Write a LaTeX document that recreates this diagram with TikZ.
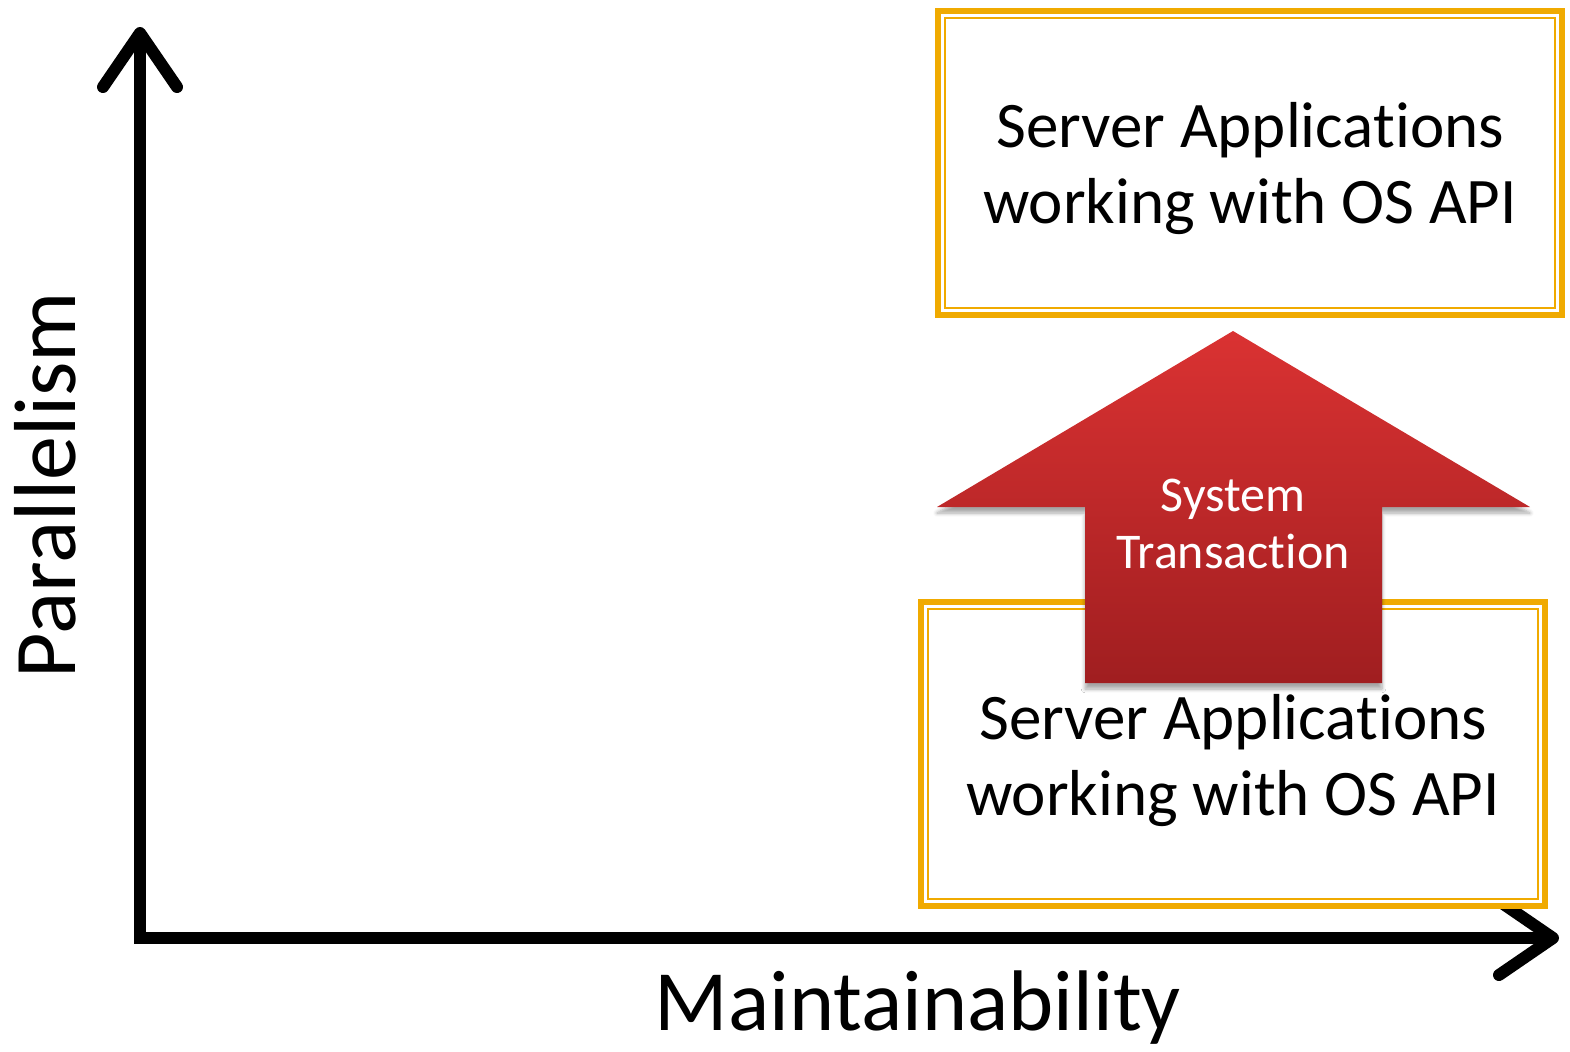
\documentclass[tikz,border=0pt]{standalone}
\usepackage{fontspec}
\setmainfont{Carlito}[Ligatures=NoCommon]
\usetikzlibrary{arrows.meta,shadows.blur}

\definecolor{boxgold}{RGB}{240,170,0}
\definecolor{arrowtop}{RGB}{218,50,50}
\definecolor{arrowbot}{RGB}{160,30,32}

\tikzset{
  axis/.style={line width=6pt, line join=miter,
    {Straight Barb[length=27pt,width=37pt,round]}-{Straight Barb[length=27pt,width=37pt,round]}},
  appbox/.style={draw=boxgold, fill=white, line width=3pt, minimum width=312pt, minimum height=152pt,
    inner sep=0pt, outer sep=0pt},
  apptext/.style={align=center, font=\fontsize{32.5}{38}\selectfont, inner sep=0pt},
  innerline/.style={draw=boxgold, line width=0.9pt},
  bigarrow/.style={top color=arrowtop, bottom color=arrowbot, draw=none,
    blur shadow={shadow xshift=0pt, shadow yshift=-3pt, shadow blur steps=6, shadow opacity=35}},
}

\begin{document}
\begin{tikzpicture}[x=0.5pt,y=-0.5pt]
  \useasboundingbox (0,0) rectangle (1570,1051);

  % axes
  \coordinate (origin) at (140,938);
  \coordinate (ytip) at (140,27);
  \coordinate (xtip) at (1559,938);
  \draw[axis] (ytip) -- (origin) -- (xtip);
  \node[rotate=90, font=\fontsize{44}{48}\selectfont] (ylabel) at (45,485) {Parallelism};
  \node[font=\fontsize{43}{46}\selectfont] (xlabel) at (918,1008) {Maintainability};

  % application boxes
  \node[appbox] (upper) at (1250,163) {};
  \draw[innerline] ([shift={(3.6pt,-3.6pt)}]upper.north west) rectangle ([shift={(-3.6pt,3.6pt)}]upper.south east);
  \node[apptext] (uppertext) at ([yshift=-3pt]upper.center) {Server Applications\\working with OS API};
  \node[appbox] (lower) at (1233,754) {};
  \draw[innerline] ([shift={(3.6pt,-3.6pt)}]lower.north west) rectangle ([shift={(-3.6pt,3.6pt)}]lower.south east);
  \node[apptext] (lowertext) at ([yshift=-3.5pt]lower.center) {Server Applications\\working with OS API};

  % block arrow between the boxes
  \path[bigarrow] (1233,331) -- (1530,507) -- (1382,507) -- (1382,683)
    -- (1085,683) -- (1085,507) -- (937,507) -- cycle;
  \node[text=white, align=center, font=\fontsize{25}{28.5}\selectfont] (trans) at (1233,524) {System\\Transaction};
\end{tikzpicture}
\end{document}
